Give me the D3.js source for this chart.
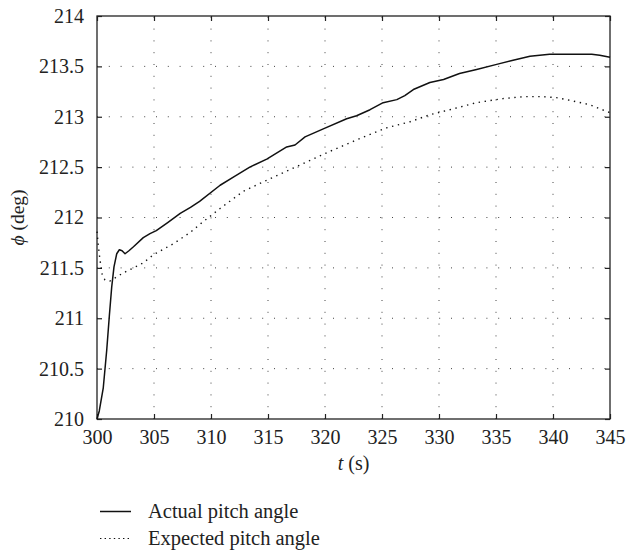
<!DOCTYPE html>
<meta charset="utf-8">
<style>
body { margin: 0; background: #fff; }
svg { display: block; font-family: "Liberation Serif", "DejaVu Serif", serif; }
.grid line { stroke: #444; stroke-width: 1; stroke-dasharray: 1,10.8; }
</style>
<svg width="626" height="552"></svg>
<script src="https://cdnjs.cloudflare.com/ajax/libs/d3/7.8.5/d3.min.js"></script>
<script>

var xTicks = [300, 305, 310, 315, 320, 325, 330, 335, 340, 345];
var yTicks = [210, 210.5, 211, 211.5, 212, 212.5, 213, 213.5, 214];

// Actual pitch angle (solid)
var actualT = [300, 300.2, 300.55, 300.85, 301.08, 301.29, 301.49, 301.73, 301.96, 302.2, 302.46, 302.8, 303.2, 304.06, 304.65, 305.2, 306.2, 307.3, 308.2, 309.0, 310.8, 311.96, 313.4, 314.89, 316.64, 317.37, 318.25, 319.85, 321.9, 322.77, 323.95, 325.1, 326.3, 327.0, 327.75, 329.2, 330.4, 331.8, 333.3, 335.06, 336.5, 337.98, 339.7, 343.4, 344.1, 345];
var actualPhi = [210.0, 210.08, 210.31, 210.68, 211.02, 211.31, 211.51, 211.64, 211.68, 211.67, 211.64, 211.67, 211.71, 211.80, 211.84, 211.87, 211.95, 212.04, 212.10, 212.16, 212.32, 212.40, 212.50, 212.58, 212.70, 212.72, 212.80, 212.88, 212.98, 213.01, 213.07, 213.14, 213.17, 213.21, 213.27, 213.34, 213.37, 213.43, 213.47, 213.52, 213.56, 213.60, 213.62, 213.62, 213.61, 213.59];

// Expected pitch angle (dotted)
var expectedT = [300, 300.1, 300.26, 300.46, 300.7, 301.14, 301.73, 302.3, 303.2, 304.06, 304.94, 306.7, 308.16, 309.0, 310.8, 312.83, 314.89, 317.2, 320.1, 322.77, 325.4, 327.46, 329.2, 330.96, 333.3, 335.6, 337.5, 339.0, 340.3, 341.2, 343.2, 345];
var expectedPhi = [211.86, 211.74, 211.58, 211.43, 211.38, 211.37, 211.41, 211.45, 211.50, 211.55, 211.63, 211.74, 211.85, 211.93, 212.09, 212.26, 212.37, 212.49, 212.64, 212.77, 212.89, 212.95, 213.02, 213.07, 213.14, 213.18, 213.20, 213.20, 213.19, 213.17, 213.12, 213.04];

var serif = "'Liberation Serif', 'DejaVu Serif', serif";

var svg = d3.select("svg"),
    margin = {top: 16, right: 16, bottom: 133, left: 97},
    width = 626 - margin.left - margin.right,
    height = 552 - margin.top - margin.bottom,
    g = svg.append("g").attr("transform", "translate(" + margin.left + "," + margin.top + ")");

var x = d3.scaleLinear().domain([300, 345]).range([0, width]),
    y = d3.scaleLinear().domain([210, 214]).range([height, 0]);

// dotted grid
g.append("g").attr("class", "grid")
  .selectAll("line").data(xTicks.slice(1, -1)).enter().append("line")
    .attr("x1", function(d) { return x(d); }).attr("x2", function(d) { return x(d); })
    .attr("y1", height).attr("y2", 0);
g.append("g").attr("class", "grid")
  .selectAll("line").data(yTicks.slice(1, -1)).enter().append("line")
    .attr("y1", function(d) { return y(d); }).attr("y2", function(d) { return y(d); })
    .attr("x1", 0).attr("x2", width);

// axes with inward ticks
var xa = g.append("g").attr("transform", "translate(0," + height + ")")
  .call(d3.axisBottom(x).tickValues(xTicks).tickSizeInner(-5).tickSizeOuter(0).tickPadding(11).tickFormat(d3.format("d")));
var ya = g.append("g")
  .call(d3.axisLeft(y).tickValues(yTicks).tickSizeInner(-5).tickSizeOuter(0).tickPadding(13).tickFormat(function(d) { return String(d); }));
var xt = g.append("g")
  .call(d3.axisTop(x).tickValues(xTicks).tickSizeInner(-5).tickSizeOuter(0).tickFormat(""));
var yr = g.append("g").attr("transform", "translate(" + width + ",0)")
  .call(d3.axisRight(y).tickValues(yTicks).tickSizeInner(-5).tickSizeOuter(0).tickFormat(""));
[xa, ya, xt, yr].forEach(function(a) {
  a.attr("font-family", serif).attr("font-size", 20);
  a.select(".domain").remove();
  a.selectAll(".tick line").attr("stroke", "#222").attr("stroke-width", 1.2);
  a.selectAll(".tick text").style("font-family", serif).style("font-size", "20px").attr("fill", "#222");
});

g.append("rect")
    .attr("width", width).attr("height", height)
    .attr("fill", "none").attr("stroke", "#222").attr("stroke-width", 1.3);

var line = d3.line()
    .x(function(d) { return x(d[0]); })
    .y(function(d) { return y(d[1]); });

g.append("path")
    .datum(d3.zip(actualT, actualPhi))
    .attr("fill", "none").attr("stroke", "#111").attr("stroke-width", 1.5)
    .attr("stroke-linejoin", "round")
    .attr("d", line);

g.append("path")
    .datum(d3.zip(expectedT, expectedPhi))
    .attr("fill", "none").attr("stroke", "#111").attr("stroke-width", 1.4)
    .attr("stroke-dasharray", "1.4,4.6")
    .attr("d", line);

// axis titles
var xl = svg.append("text")
    .attr("x", margin.left + width / 2).attr("y", 470)
    .attr("text-anchor", "middle").style("font-family", serif).style("font-size", "20px").attr("fill", "#222");
xl.append("tspan").style("font-style", "italic").text("t");
xl.append("tspan").text(" (s)");

var yl = svg.append("text")
    .attr("transform", "translate(24," + (margin.top + height / 2) + ") rotate(-90)")
    .attr("text-anchor", "middle").style("font-family", serif).style("font-size", "19.5px").attr("fill", "#222");
yl.append("tspan").style("font-style", "italic").text("ϕ");
yl.append("tspan").text(" (deg)");

// legend
var legend = [
  {label: "Actual pitch angle", dash: null, y: 511.5},
  {label: "Expected pitch angle", dash: "1.4,3.2", y: 538.5}
];
var lg = svg.append("g");
legend.forEach(function(d) {
  lg.append("line")
      .attr("x1", 100).attr("x2", 131).attr("y1", d.y).attr("y2", d.y)
      .attr("stroke", "#111").attr("stroke-width", d.dash ? 1.2 : 1.5)
      .attr("stroke-dasharray", d.dash);
  lg.append("text")
      .attr("x", 148).attr("y", d.y + 6)
      .style("font-family", serif).style("font-size", "20.5px").attr("fill", "#222")
      .text(d.label);
});
</script>
